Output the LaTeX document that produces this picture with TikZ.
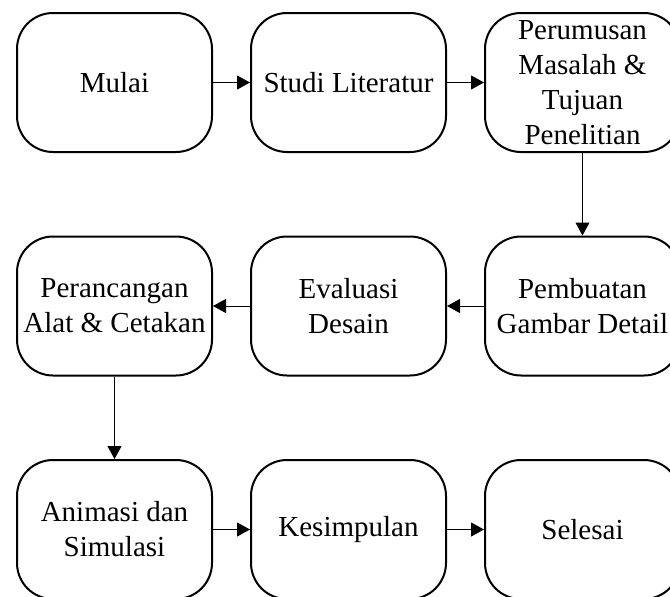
\documentclass[tikz,border=0pt]{standalone}
\usepackage{fontspec}
\setmainfont{Liberation Serif}
\usetikzlibrary{arrows.meta, calc}

\tikzset{
  proc/.style={draw, line width=1pt, rounded corners=18pt, minimum width=97.5pt,
    minimum height=69.5pt, inner sep=0pt, align=center,
    font=\fontsize{14.5}{17.5}\selectfont},
  flow/.style={-{Triangle[length=6.5pt,width=7pt]}, line width=0.5pt}
}

\begin{document}
\begin{tikzpicture}[x=0.5pt, y=-0.5pt]
  \useasboundingbox (0,0) rectangle (670,596);
  % baris atas
  \node[proc] (mulai) at (114.5, 82.5) {Mulai};
  \node[proc] (studi) at ($(mulai) + (234, 0)$) {Studi Literatur};
  \node[proc] (rumusan) at ($(studi) + (234, 0)$) {Perumusan\\Masalah \&\\Tujuan\\Penelitian};
  % baris tengah
  \node[proc] (gambar) at ($(rumusan) + (0, 223.5)$) {Pembuatan\\Gambar Detail};
  \node[proc] (evaluasi) at ($(gambar) + (-234, 0)$) {Evaluasi\\Desain};
  \node[proc] (rancang) at ($(evaluasi) + (-234, 0)$) {Perancangan\\Alat \& Cetakan};
  % baris bawah
  \node[proc] (animasi) at ($(rancang) + (0, 223.5)$) {Animasi dan\\Simulasi};
  \node[proc] (simpulan) at ($(animasi) + (234, 0)$) {Kesimpulan};
  \node[proc] (selesai) at ($(simpulan) + (234, 0)$) {Selesai};

  \draw[flow] (mulai) -- (studi);
  \draw[flow] (studi) -- (rumusan);
  \draw[flow] (rumusan) -- (gambar);
  \draw[flow] (gambar) -- (evaluasi);
  \draw[flow] (evaluasi) -- (rancang);
  \draw[flow] (rancang) -- (animasi);
  \draw[flow] (animasi) -- (simpulan);
  \draw[flow] (simpulan) -- (selesai);
\end{tikzpicture}
\end{document}
